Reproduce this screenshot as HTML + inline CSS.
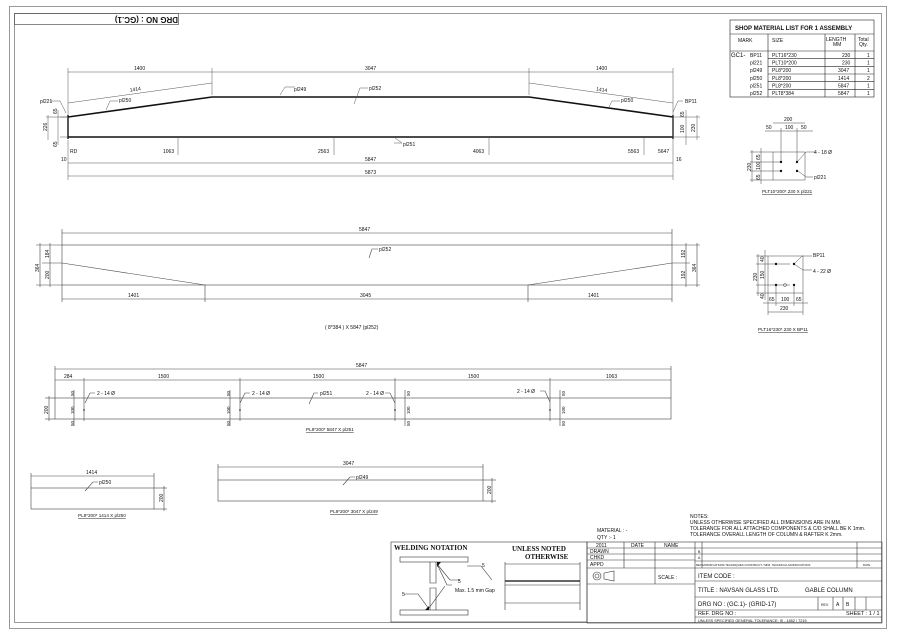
<!DOCTYPE html>
<html><head><meta charset="utf-8"><style>
html,body{margin:0;padding:0;background:#fff;}
svg{display:block;}
text{font-family:"Liberation Sans",Arial,sans-serif;fill:#111;}
.t{font-size:5px;}
.s{font-size:4px;}
</style></head><body>
<svg width="900" height="636" viewBox="0 0 900 636" xmlns="http://www.w3.org/2000/svg">
<g fill="none" stroke="#999" stroke-width="1">
<rect x="9.5" y="6.5" width="877" height="622"/>
<rect x="14.5" y="13.5" width="867" height="609"/>
</g>
<rect x="14.5" y="13.5" width="164" height="11" fill="none" stroke="#555" stroke-width="0.7"/>
<text transform="translate(178,17) rotate(180)" font-size="8" font-weight="bold" x="0" y="0">DRG NO :  (GC.1)</text>

<g stroke="#111" fill="none">
<polyline points="68,117 212,97 529,97 673,117" stroke-width="1.6"/>
<line x1="68" y1="137" x2="673" y2="137" stroke-width="1.6"/>
<line x1="68" y1="115" x2="68" y2="139" stroke-width="1.4"/>
<line x1="673" y1="115" x2="673" y2="139" stroke-width="1.4"/>
</g>
<g stroke="#555" stroke-width="0.5" fill="none">
<line x1="68" y1="72" x2="673" y2="72"/>
<line x1="68" y1="68" x2="68" y2="115"/><line x1="212" y1="68" x2="212" y2="95"/><line x1="529" y1="68" x2="529" y2="95"/><line x1="673" y1="68" x2="673" y2="180"/>
<line x1="68" y1="103" x2="212" y2="83"/><line x1="529" y1="83" x2="673" y2="103"/>
<line x1="68" y1="163" x2="673" y2="163"/><line x1="68" y1="176" x2="673" y2="176"/>
<line x1="68" y1="140" x2="68" y2="180"/>
<line x1="178" y1="137" x2="178" y2="155"/><line x1="334" y1="137" x2="334" y2="155"/><line x1="489" y1="137" x2="489" y2="155"/><line x1="644" y1="137" x2="644" y2="155"/>
<line x1="60" y1="117" x2="68" y2="117"/><line x1="60" y1="137" x2="68" y2="137"/><line x1="46" y1="117" x2="68" y2="117"/><line x1="48" y1="115" x2="48" y2="140"/><line x1="58" y1="110" x2="58" y2="145"/>
<line x1="673" y1="117" x2="700" y2="117"/><line x1="673" y1="137" x2="700" y2="137"/><line x1="686" y1="110" x2="686" y2="145"/><line x1="697" y1="115" x2="697" y2="140"/>
<polyline points="50,101 60,101 66,113"/><polyline points="683,101 678,101 673,112"/>
<polyline points="118,101 110,101 106,110"/><polyline points="295,87 285,87 280,95"/><polyline points="368,88 360,88 354,104"/><polyline points="620,101 612,101 609,107"/><polyline points="394,143 402,143 395,138"/>
</g>
<g class="t" font-size="5">
<text x="134" y="70">1400</text><text x="365" y="70">3047</text><text x="596" y="70">1400</text>
<text x="130" y="91" transform="rotate(-8 135 91)">1414</text><text x="596" y="91" transform="rotate(8 600 91)">1414</text>
<text x="40" y="103">pl221</text><text x="119" y="102">pl250</text><text x="294" y="91">pl249</text><text x="369" y="90">pl252</text><text x="621" y="102">pl250</text><text x="685" y="103">BP11</text><text x="403" y="146">pl251</text>
<text x="70" y="153">RD</text><text x="163" y="153">1063</text><text x="318" y="153">2563</text><text x="473" y="153">4063</text><text x="628" y="153">5563</text><text x="658" y="153">5647</text>
<text x="61" y="161">10</text><text x="676" y="161">16</text>
<text x="365" y="161">5847</text><text x="365" y="174">5873</text>
<text transform="translate(47,131) rotate(-90)">226</text><text transform="translate(57,114) rotate(-90)">65</text><text transform="translate(57,147) rotate(-90)">65</text>
<text transform="translate(684,117) rotate(-90)">65</text><text transform="translate(684,133) rotate(-90)">100</text><text transform="translate(695,132) rotate(-90)">230</text>
</g>

<g stroke="#222" stroke-width="0.6" fill="none">
<rect x="730" y="20" width="144" height="77"/>
<line x1="730" y1="34" x2="874" y2="34"/><line x1="730" y1="51" x2="874" y2="51"/>
<line x1="768" y1="34" x2="768" y2="97"/><line x1="825" y1="34" x2="825" y2="97"/><line x1="855" y1="34" x2="855" y2="97"/>
<line x1="768" y1="58.7" x2="874" y2="58.7"/><line x1="768" y1="66.3" x2="874" y2="66.3"/><line x1="768" y1="74" x2="874" y2="74"/><line x1="768" y1="81.7" x2="874" y2="81.7"/><line x1="768" y1="89.3" x2="874" y2="89.3"/>
</g>
<text x="735" y="30" font-size="6" font-weight="bold">SHOP MATERIAL LIST FOR   1     ASSEMBLY</text>
<g font-size="5">
<text x="738" y="42">MARK</text><text x="772" y="42">SIZE</text><text x="826" y="41">LENGTH</text><text x="833" y="46">MM</text><text x="858" y="41">Total</text><text x="859" y="46">Qty.</text>
<text x="731" y="57" font-size="6">GC1-</text>
<text x="750" y="57">BP11</text><text x="772" y="57">PLT16*230</text><text x="842" y="57">230</text><text x="867" y="57">1</text>
<text x="750" y="64.5">pl221</text><text x="772" y="64.5">PLT10*200</text><text x="842" y="64.5">230</text><text x="867" y="64.5">1</text>
<text x="750" y="72">pl249</text><text x="772" y="72">PL8*200</text><text x="838" y="72">3047</text><text x="867" y="72">1</text>
<text x="750" y="80">pl250</text><text x="772" y="80">PL8*200</text><text x="838" y="80">1414</text><text x="867" y="80">2</text>
<text x="750" y="87.5">pl251</text><text x="772" y="87.5">PL8*200</text><text x="838" y="87.5">5847</text><text x="867" y="87.5">1</text>
<text x="750" y="95">pl252</text><text x="772" y="95">PLT8*384</text><text x="838" y="95">5847</text><text x="867" y="95">1</text>
</g>

<g stroke="#444" stroke-width="0.5" fill="none">
<rect x="773" y="152" width="32" height="28"/>
<line x1="773" y1="123" x2="805" y2="123"/><line x1="765" y1="131" x2="813" y2="131"/>
<line x1="781" y1="128" x2="781" y2="163"/><line x1="797" y1="128" x2="797" y2="163"/>
<line x1="750" y1="162" x2="781" y2="162"/><line x1="750" y1="171" x2="781" y2="171"/>
<line x1="750" y1="152" x2="773" y2="152"/><line x1="750" y1="180" x2="773" y2="180"/>
<line x1="752" y1="150" x2="752" y2="182"/><line x1="761" y1="148" x2="761" y2="184"/>
<polyline points="798,161 806,152 815,152"/><polyline points="798,171 806,177 813,177"/>
</g>
<g fill="#111"><circle cx="781" cy="162" r="1.2"/><circle cx="797" cy="162" r="1.2"/><circle cx="781" cy="171" r="1.2"/><circle cx="797" cy="171" r="1.2"/></g>
<g font-size="5">
<text x="784" y="121">200</text><text x="766" y="129">50</text><text x="785" y="129">100</text><text x="801" y="129">50</text>
<text x="814" y="154">4 - 18 Ø</text><text x="814" y="179">pl221</text>
<text transform="translate(751,171) rotate(-90)">230</text><text transform="translate(760,160) rotate(-90)">65</text><text transform="translate(760,170) rotate(-90)">100</text><text transform="translate(760,180) rotate(-90)">65</text>
<text x="762" y="193" text-decoration="underline" font-size="4.6">PLT10*200*.230 X pl221</text>
</g>

<g stroke="#444" stroke-width="0.5" fill="none">
<rect x="768" y="256" width="35" height="37"/>
<line x1="756" y1="264" x2="790" y2="264"/><line x1="756" y1="285" x2="790" y2="285"/>
<line x1="756" y1="256" x2="768" y2="256"/><line x1="756" y1="293" x2="768" y2="293"/>
<line x1="758" y1="254" x2="758" y2="296"/><line x1="765" y1="250" x2="765" y2="300"/>
<line x1="763" y1="303" x2="808" y2="303"/><line x1="768" y1="312" x2="803" y2="312"/>
<line x1="768" y1="293" x2="768" y2="315"/><line x1="803" y1="293" x2="803" y2="315"/><line x1="776" y1="285" x2="776" y2="306"/><line x1="794" y1="285" x2="794" y2="306"/>
<polyline points="794,264 802,256 812,256"/><polyline points="794,264 803,270 812,270"/>
<circle cx="785" cy="285" r="1.5"/>
</g>
<g fill="#111"><circle cx="776" cy="264" r="1.2"/><circle cx="794" cy="264" r="1.2"/><circle cx="776" cy="285" r="1.2"/><circle cx="794" cy="285" r="1.2"/></g>
<g font-size="5">
<text x="813" y="257">BP11</text><text x="813" y="273">4 - 22 Ø</text>
<text x="769" y="301">65</text><text x="781" y="301">100</text><text x="796" y="301">65</text><text x="780" y="310">230</text>
<text transform="translate(757,281) rotate(-90)">230</text><text transform="translate(764,279) rotate(-90)">150</text><text transform="translate(764,262) rotate(-90)">40</text><text transform="translate(764,299) rotate(-90)">40</text>
<text x="758" y="331" text-decoration="underline" font-size="4.6">PLT16*230*.230 X BP11</text>
</g>

<g stroke="#444" stroke-width="0.6" fill="none">
<rect x="62" y="245" width="610" height="40"/>
<polyline points="62,263 205,285"/><polyline points="528,285 672,263"/>
<line x1="62" y1="233" x2="672" y2="233"/><line x1="62" y1="229" x2="62" y2="245"/><line x1="672" y1="229" x2="672" y2="245"/>
<line x1="62" y1="299" x2="672" y2="299"/><line x1="62" y1="285" x2="62" y2="302"/><line x1="205" y1="285" x2="205" y2="302"/><line x1="528" y1="285" x2="528" y2="302"/><line x1="672" y1="285" x2="672" y2="302"/>
<line x1="36" y1="245" x2="62" y2="245"/><line x1="36" y1="285" x2="62" y2="285"/><line x1="42" y1="263" x2="62" y2="263"/>
<line x1="40" y1="243" x2="40" y2="287"/><line x1="50" y1="243" x2="50" y2="287"/>
<line x1="672" y1="245" x2="700" y2="245"/><line x1="672" y1="285" x2="700" y2="285"/><line x1="672" y1="263" x2="690" y2="263"/>
<line x1="686" y1="243" x2="686" y2="287"/><line x1="697" y1="243" x2="697" y2="287"/>
<polyline points="378,249 372,249 369,258"/>
</g>
<g font-size="5">
<text x="359" y="231">5847</text><text x="379" y="251">pl252</text>
<text x="128" y="297">1401</text><text x="360" y="297">3045</text><text x="588" y="297">1401</text>
<text transform="translate(39,272) rotate(-90)">364</text><text transform="translate(49,258) rotate(-90)">184</text><text transform="translate(49,279) rotate(-90)">200</text>
<text transform="translate(685,258) rotate(-90)">192</text><text transform="translate(685,279) rotate(-90)">192</text><text transform="translate(696,272) rotate(-90)">364</text>
<text x="325" y="329">( 8*384 ) X 5847 (pl252)</text>
</g>

<g stroke="#444" stroke-width="0.6" fill="none">
<rect x="55" y="398" width="616" height="21"/>
<line x1="55" y1="369" x2="671" y2="369"/><line x1="55" y1="380" x2="671" y2="380"/>
<line x1="55" y1="366" x2="55" y2="398"/><line x1="671" y1="366" x2="671" y2="398"/>
<line x1="84" y1="378" x2="84" y2="421"/><line x1="240" y1="378" x2="240" y2="421"/><line x1="395" y1="378" x2="395" y2="421"/><line x1="550" y1="378" x2="550" y2="421"/>
<line x1="45" y1="398" x2="55" y2="398"/><line x1="45" y1="419" x2="55" y2="419"/><line x1="49" y1="396" x2="49" y2="421"/>
<line x1="74" y1="390" x2="74" y2="426"/><line x1="230" y1="390" x2="230" y2="426"/><line x1="405" y1="390" x2="405" y2="426"/><line x1="560" y1="390" x2="560" y2="426"/>
<polyline points="95,393 90,393 85,403"/><polyline points="250,393 245,393 240,403"/><polyline points="385,393 390,393 395,403"/><polyline points="540,391 545,391 550,402"/><polyline points="318,393 314,393 309,404"/>
</g>
<g fill="#111"><circle cx="84" cy="410" r="0.8"/><circle cx="240" cy="410" r="0.8"/><circle cx="395" cy="410" r="0.8"/><circle cx="550" cy="410" r="0.8"/></g>
<g font-size="5">
<text x="356" y="367">5847</text>
<text x="64" y="378">284</text><text x="158" y="378">1500</text><text x="313" y="378">1500</text><text x="468" y="378">1500</text><text x="606" y="378">1063</text>
<text x="97" y="395">2 - 14 Ø</text><text x="252" y="395">2 - 14 Ø</text><text x="366" y="395">2 - 14 Ø</text><text x="517" y="393">2 - 14 Ø</text><text x="320" y="395">pl251</text>
<text transform="translate(48,414) rotate(-90)">200</text>
<text transform="translate(74,396) rotate(-90)" font-size="4.5">50</text><text transform="translate(74,414) rotate(-90)" font-size="4.5">100</text><text transform="translate(74,426) rotate(-90)" font-size="4.5">50</text>
<text transform="translate(230,396) rotate(-90)" font-size="4.5">50</text><text transform="translate(230,414) rotate(-90)" font-size="4.5">100</text><text transform="translate(230,426) rotate(-90)" font-size="4.5">50</text>
<text transform="translate(410,396) rotate(-90)" font-size="4.5">50</text><text transform="translate(410,414) rotate(-90)" font-size="4.5">100</text><text transform="translate(410,426) rotate(-90)" font-size="4.5">50</text>
<text transform="translate(565,396) rotate(-90)" font-size="4.5">50</text><text transform="translate(565,414) rotate(-90)" font-size="4.5">100</text><text transform="translate(565,426) rotate(-90)" font-size="4.5">50</text>
<text x="306" y="431" text-decoration="underline" font-size="4.6">PL8*200* 5847 X pl251</text>
</g>

<g stroke="#444" stroke-width="0.6" fill="none">
<rect x="31" y="488" width="123" height="21"/>
<line x1="31" y1="476" x2="154" y2="476"/><line x1="31" y1="473" x2="31" y2="488"/><line x1="154" y1="473" x2="154" y2="488"/>
<line x1="154" y1="488" x2="167" y2="488"/><line x1="154" y1="509" x2="167" y2="509"/><line x1="164" y1="486" x2="164" y2="511"/>
<polyline points="98,482 93,482 85,491"/>
<rect x="218" y="480" width="265" height="21"/>
<line x1="218" y1="467" x2="483" y2="467"/><line x1="218" y1="464" x2="218" y2="480"/><line x1="483" y1="464" x2="483" y2="480"/>
<line x1="483" y1="480" x2="496" y2="480"/><line x1="483" y1="501" x2="496" y2="501"/><line x1="492" y1="478" x2="492" y2="503"/>
<polyline points="355,477 350,477 343,485"/>
</g>
<g font-size="5">
<text x="86" y="474">1414</text><text x="99" y="484">pl250</text><text transform="translate(163,502) rotate(-90)">200</text>
<text x="78" y="517" text-decoration="underline" font-size="4.6">PL8*200* 1414 X pl250</text>
<text x="343" y="465">3047</text><text x="356" y="479">pl249</text><text transform="translate(491,494) rotate(-90)">200</text>
<text x="330" y="513" text-decoration="underline" font-size="4.6">PL8*200* 3047 X pl249</text>
</g>

<g font-size="5">
<text x="690" y="518">NOTES:</text>
<text x="690" y="524">UNLESS  OTHERWISE SPECIFIED ALL DIMENSIONS ARE IN MM.</text>
<text x="690" y="530">TOLERANCE FOR ALL ATTACHED COMPONENTS &amp; C/D  SHALL BE K 1mm.</text>
<text x="690" y="536">TOLERANCE OVERALL LENGTH OF COLUMN &amp; RAFTER K 2mm.</text>
<text x="597" y="532">MATERIAL : -</text><text x="597" y="539">QTY :-    1</text>
</g>

<g stroke="#333" stroke-width="0.6" fill="none">
<rect x="391" y="542" width="196" height="80"/>
<rect x="400" y="557" width="68" height="5"/><rect x="400" y="610" width="68" height="5"/>
<polyline points="430,562 430,583 436,583 436,562"/><polyline points="430,610 430,588 436,588 436,610"/>
<polyline points="437,564 450,580 460,580"/><polyline points="437,564 447,585 452,585"/>
<polyline points="429,609 418,594 404,594"/><polyline points="429,608 445,586"/>
<polyline points="467,566 481,566 492,580"/>
<line x1="505" y1="562" x2="505" y2="610"/><line x1="580" y1="562" x2="580" y2="610"/>
<line x1="505" y1="564" x2="580" y2="564"/><line x1="505" y1="585" x2="580" y2="585"/><line x1="505" y1="603" x2="580" y2="603"/>
<line x1="505" y1="581" x2="580" y2="581" stroke-width="1.5"/>
</g>
<polygon points="437,562 441,562 437,567" fill="#111"/><polygon points="429,610 425,610 429,606" fill="#111"/>
<text x="394" y="550" style="font-family:'Liberation Serif',serif;font-size:7px;font-weight:bold">WELDING NOTATION</text>
<text x="512" y="551" style="font-family:'Liberation Serif',serif;font-size:7px;font-weight:bold">UNLESS NOTED</text>
<text x="525" y="559" style="font-family:'Liberation Serif',serif;font-size:7px;font-weight:bold">OTHERWISE</text>
<g font-size="5"><text x="482" y="567">5</text><text x="458" y="583">5</text><text x="455" y="592">Max. 1.5 mm Gap</text><text x="402" y="596">5</text></g>

<g stroke="#333" stroke-width="0.6" fill="none">
<rect x="587" y="542" width="295" height="81"/>
<line x1="587" y1="548" x2="695" y2="548"/><line x1="587" y1="554" x2="695" y2="554"/><line x1="587" y1="560" x2="695" y2="560"/><line x1="587" y1="568" x2="695" y2="568"/>
<line x1="624" y1="542" x2="624" y2="568"/><line x1="655" y1="542" x2="655" y2="568"/><line x1="655" y1="568" x2="655" y2="584"/><line x1="587" y1="584" x2="695" y2="584"/>
<line x1="695" y1="542" x2="695" y2="623"/>
<line x1="702" y1="542" x2="702" y2="568"/><line x1="857" y1="542" x2="857" y2="568"/>
<line x1="695" y1="548" x2="882" y2="548"/><line x1="695" y1="554" x2="882" y2="554"/><line x1="695" y1="561" x2="882" y2="561"/><line x1="695" y1="568" x2="882" y2="568"/>
<line x1="695" y1="581" x2="882" y2="581"/><line x1="695" y1="597" x2="882" y2="597"/><line x1="695" y1="610" x2="882" y2="610"/><line x1="695" y1="617" x2="882" y2="617"/>
<line x1="818" y1="597" x2="818" y2="610"/><line x1="833" y1="597" x2="833" y2="610"/><line x1="843" y1="597" x2="843" y2="610"/><line x1="855" y1="597" x2="855" y2="610"/><line x1="866" y1="597" x2="866" y2="610"/>
<circle cx="597" cy="576" r="4"/><circle cx="597" cy="576" r="2"/><polyline points="604,573 614,571 614,581 604,579 604,573"/>
</g>
<g font-size="5">
<text x="596" y="547">2011</text><text x="631" y="547">DATE</text><text x="664" y="547">NAME</text>
<text x="590" y="553">DRAWN</text><text x="590" y="559">CHKD</text><text x="590" y="566">APPD</text>
<text x="658" y="579">SCALE :</text>
<text x="698" y="553" font-size="3.5">B</text><text x="698" y="559" font-size="3.5">A</text>
<text x="696" y="566" font-size="2.8">REV  MODIFICATIONS TECHNIQUES CONSTRUCT / MFR. TECHNICAL MODIFICATIONS</text><text x="863" y="566" font-size="2.8">DATE</text>
<text x="698" y="578" font-size="6">ITEM  CODE :</text>
<text x="698" y="592" font-size="6">TITLE :  NAVSAN GLASS LTD.</text><text x="805" y="592" font-size="6">GABLE COLUMN</text>
<text x="698" y="606" font-size="6">DRG NO :    (GC.1)- (GRID-17)</text><text x="821" y="606" font-size="3.5">REV.</text><text x="836" y="606">A</text><text x="846" y="606">B</text>
<text x="698" y="615" font-size="5.5">REF. DRG NO :</text><text x="846" y="615" font-size="5.5">SHEET : 1 / 1</text>
<text x="698" y="622" font-size="3.8">UNLESS SPECIFIED GENERAL TOLERANCE: IS - 1852 / 7215</text>
</g>
</svg>
</body></html>
